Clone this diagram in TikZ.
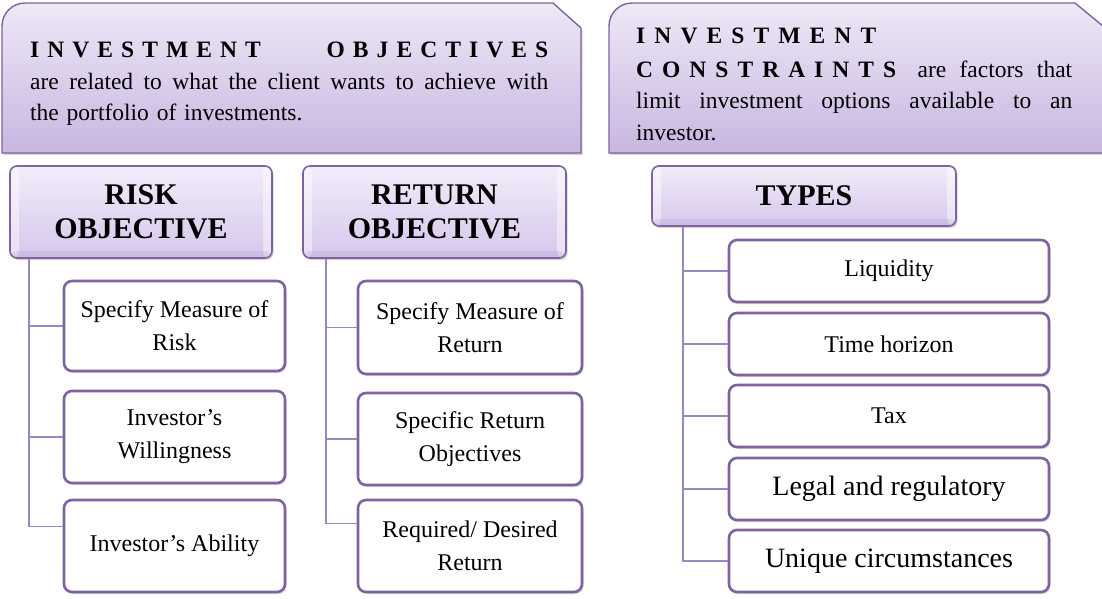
\documentclass[tikz,border=0pt]{standalone}
\usepackage{fontspec}
\setmainfont{Liberation Serif}
\usetikzlibrary{shadows}

\definecolor{edgepurple}{HTML}{7F63A1}
\definecolor{branchpurple}{HTML}{9C86C0}
\definecolor{bannertop}{HTML}{EEE8F6}
\definecolor{bannerbottom}{HTML}{C8B6E1}
\definecolor{headtop}{HTML}{F2ECF9}
\definecolor{headbottom}{HTML}{D6C7EC}

% one line spread out to a given width
\newcommand{\fullline}[2]{\makebox[#1][s]{\spaceskip=0pt\xspaceskip=0pt\relax#2}}

\begin{document}
\begin{tikzpicture}[x=1pt, y=-1pt,
	banner/.style={draw=edgepurple, line width=1.4pt, top color=bannertop, bottom color=bannerbottom,
		drop shadow={opacity=0.35, shadow xshift=1.5pt, shadow yshift=-2pt}},
	bannertext/.style={anchor=north west, inner sep=0pt, text width=#1, align=left,
		font=\fontsize{23.5}{31.5}\selectfont},
	head/.style={draw=edgepurple, line width=1.6pt, rounded corners=7pt, top color=headtop, bottom color=headbottom,
		align=center, font=\bfseries\fontsize{30}{34}\selectfont,
		drop shadow={opacity=0.35, shadow xshift=1.5pt, shadow yshift=-2pt},
		path picture={
			\fill[white, opacity=0.45] (path picture bounding box.north west) rectangle ([xshift=9pt]path picture bounding box.south west);
			\fill[white, opacity=0.45] (path picture bounding box.north east) rectangle ([xshift=-9pt]path picture bounding box.south east);
			\fill[edgepurple, opacity=0.12] (path picture bounding box.south west) rectangle ([yshift=7pt]path picture bounding box.south east);
		}},
	item/.style={draw=edgepurple, line width=2.6pt, fill=white, rounded corners=8pt, align=center,
		font=\fontsize{24}{33}\selectfont,
		drop shadow={opacity=0.3, shadow xshift=1.5pt, shadow yshift=-2pt}},
	branch/.style={draw=branchpurple, line width=1.5pt}]
	\useasboundingbox (0,0) rectangle (1102,598);

	% the two banners across the top
	\path[banner] (2,153) -- (2,26) arc[start angle=180, end angle=270, radius=23] -- (553,3) -- (581,28) -- (581,153) -- cycle;
	\path[banner] (609,153) -- (609,26) arc[start angle=180, end angle=270, radius=23] -- (1075,3) -- (1115,36) -- (1115,153) -- cycle;
	\node[bannertext=520pt](objtext) at (30,42){%
		\fullline{518pt}{\bfseries I N V E S T M E N T\hspace{2.8em}O B J E C T I V E S}\\
		\fullline{518pt}{are related to what the client wants to achieve with}\\
		the portfolio of investments.};
	\node[bannertext=440pt](context) at (636,28){%
		\fullline{240pt}{\bfseries I N V E S T M E N T}\\[2pt]
		\fullline{436pt}{\fullline{260pt}{\bfseries C O N S T R A I N T S}\hspace{8pt} are factors that}\\
		\fullline{436pt}{limit investment options available to an}\\
		investor.};

	% headers
	\node[head, minimum width=262pt, minimum height=92pt](risk) at (141,212){RISK\\OBJECTIVE};
	\node[head, minimum width=263pt, minimum height=92pt](return) at (434.5,212){RETURN\\OBJECTIVE};
	\node[head, minimum width=304pt, minimum height=60pt](types) at (804,196){TYPES};

	% risk objective items
	\node[item, minimum width=221pt, minimum height=90pt](ra1) at (174.5,326){Specify Measure of\\Risk};
	\node[item, minimum width=221pt, minimum height=92pt](ra2) at (174.5,437){Investor’s\\Willingness};
	\node[item, minimum width=221pt, minimum height=92pt](ra3) at (174.5,546){Investor’s Ability};

	% return objective items
	\node[item, minimum width=224pt, minimum height=93pt](rb1) at (470,327.5){Specify Measure of\\Return};
	\node[item, minimum width=224pt, minimum height=92pt](rb2) at (470,439){Specific Return\\Objectives};
	\node[item, minimum width=224pt, minimum height=92pt](rb3) at (470,546){Required/ Desired\\Return};

	% constraint types
	\node[item, minimum width=320pt, minimum height=62pt](tc1) at (889,271){Liquidity};
	\node[item, minimum width=320pt, minimum height=62pt](tc2) at (889,344){Time horizon};
	\node[item, minimum width=320pt, minimum height=62pt](tc3) at (889,416){Tax};
	\node[item, minimum width=320pt, minimum height=62pt, font=\fontsize{28}{33}\selectfont](tc4) at (889,489){Legal and regulatory};
	\node[item, minimum width=320pt, minimum height=62pt, font=\fontsize{28}{33}\selectfont](tc5) at (889,561){Unique circumstances};

	% tree lines
	\draw[branch] ([xshift=20pt]risk.south west) |- (ra1.west);
	\draw[branch] ([xshift=20pt]risk.south west) |- (ra2.west);
	\draw[branch] ([xshift=20pt]risk.south west) |- ([yshift=-28pt]ra3.north west);
	\draw[branch] ([xshift=24pt]return.south west) |- (rb1.west);
	\draw[branch] ([xshift=24pt]return.south west) |- (rb2.west);
	\draw[branch] ([xshift=24pt]return.south west) |- ([yshift=-25pt]rb3.north west);
	\draw[branch] ([xshift=32pt]types.south west) |- (tc1.west);
	\draw[branch] ([xshift=32pt]types.south west) |- (tc2.west);
	\draw[branch] ([xshift=32pt]types.south west) |- (tc3.west);
	\draw[branch] ([xshift=32pt]types.south west) |- (tc4.west);
	\draw[branch] ([xshift=32pt]types.south west) |- (tc5.west);
\end{tikzpicture}
\end{document}
